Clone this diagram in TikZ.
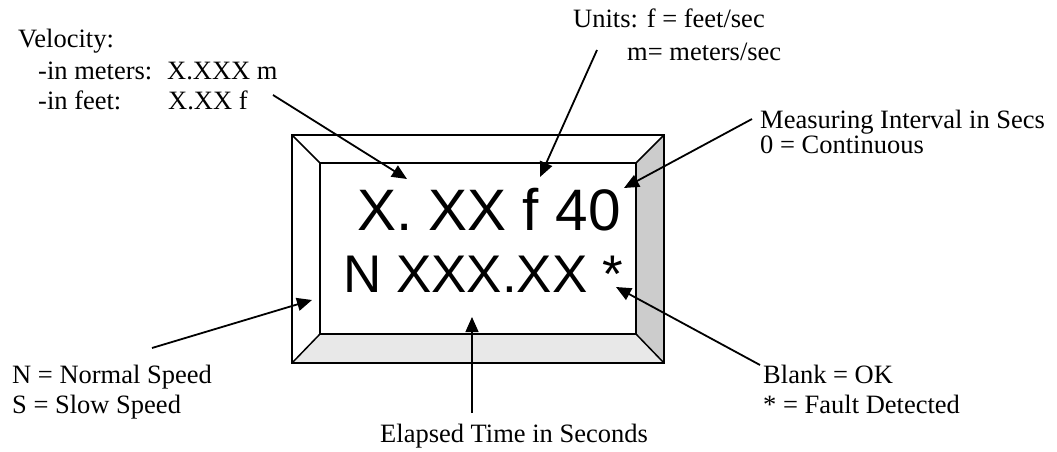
\documentclass[tikz,border=0pt]{standalone}
\usepackage{fontspec}
\setmainfont{Liberation Serif}
\newfontfamily\dispfont{Liberation Sans}
\usetikzlibrary{arrows.meta}
\begin{document}
\begin{tikzpicture}[x=1pt,y=-1pt,
  lbl/.style={anchor=base west,inner sep=0pt,font=\fontsize{26.5}{30}\selectfont},
  dispA/.style={anchor=base west,inner sep=0pt,font=\dispfont\fontsize{58.5}{60}\selectfont},
  dispB/.style={anchor=base west,inner sep=0pt,font=\dispfont\fontsize{53}{60}\selectfont},
  ptr/.style={line width=1.8pt,-{Triangle[length=15pt,width=13pt]}},
  thinptr/.style={line width=1.3pt,-{Triangle[length=15pt,width=13pt]}},
  frame/.style={line width=2pt,line join=miter},
  bevel/.style={line width=1.5pt},
  darkpanel/.style={fill=black!20},
  lightpanel/.style={fill=black!9}]
\useasboundingbox (0,0) rectangle (1057,452);
% display frame corners
\coordinate (oTL) at (292,135);
\coordinate (oTR) at (664,135);
\coordinate (oBR) at (664,363);
\coordinate (oBL) at (292,363);
\coordinate (iTL) at (320,163);
\coordinate (iTR) at (636,163);
\coordinate (iBR) at (636,334);
\coordinate (iBL) at (320,334);
\fill[darkpanel] (iTR) -- (oTR) -- (oBR) -- (iBR) -- cycle;
\fill[lightpanel] (iBL) -- (iBR) -- (oBR) -- (oBL) -- cycle;
\draw[bevel] (oTL) -- (iTL) (oTR) -- (iTR) (oBR) -- (iBR) (oBL) -- (iBL);
\draw[frame] (oTL) rectangle (oBR);
\draw[frame] (iTL) rectangle (iBR);
% display text
\node[dispA] (line1) at (357,230) {X. XX f 40};
\node[dispB] (line2) at (343,292) {N XXX.XX *};
% labels
\node[lbl] (vel) at (18,48) {Velocity:};
\node[lbl] (velm) at (38,79) {-in meters:};
\node[lbl] (velmv) at (167,79) {X.XXX m};
\node[lbl] (velf) at (38,109) {-in feet:};
\node[lbl] (velfv) at (168,109) {X.XX f};
\node[lbl] (units) at (573,28) {Units: f = feet/sec};
\node[lbl] (unitsm) at (627,60) {m= meters/sec};
\node[lbl] (meas) at (760,128) {Measuring Interval in Secs};
\node[lbl] (meas2) at (760,153) {0 = Continuous};
\node[lbl] (speed) at (12,383) {N = Normal Speed};
\node[lbl] (speed2) at (12,413) {S = Slow Speed};
\node[lbl] (fault) at (763,383) {Blank = OK};
\node[lbl] (fault2) at (763,413) {* = Fault Detected};
\node[lbl] (elapsed) at (380,442) {Elapsed Time in Seconds};
% arrow ends
\coordinate (velS) at (273,95);   \coordinate (velT) at (407,179);
\coordinate (unitS) at (597,50);  \coordinate (unitT) at (540,177);
\coordinate (measS) at (752,119); \coordinate (measT) at (624,188);
\coordinate (faultS) at (760,365);\coordinate (faultT) at (616,287);
\coordinate (spdS) at (152,348);  \coordinate (spdT) at (312,300);
\coordinate (elS) at (472,413);   \coordinate (elT) at (472,317);
\draw[ptr] (velS) -- (velT);
\draw[ptr] (unitS) -- (unitT);
\draw[ptr] (measS) -- (measT);
\draw[ptr] (faultS) -- (faultT);
\draw[ptr] (spdS) -- (spdT);
\draw[thinptr] (elS) -- (elT);
\end{tikzpicture}
\end{document}
